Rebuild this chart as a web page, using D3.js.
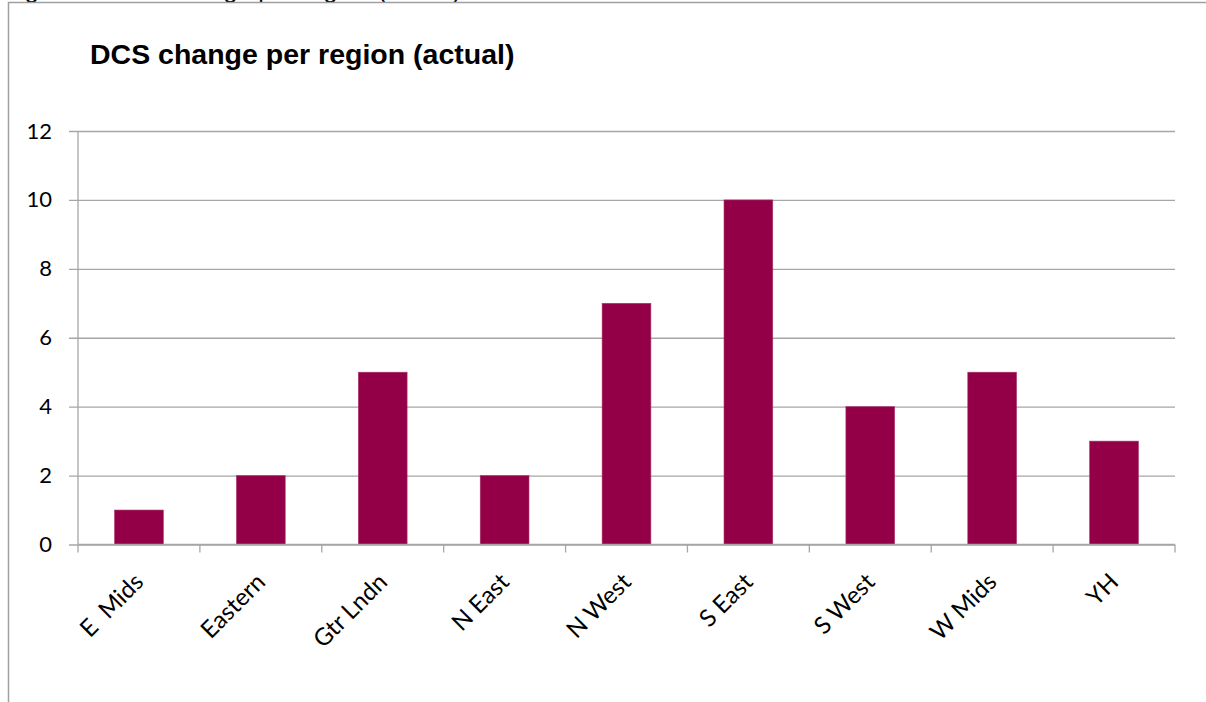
<!DOCTYPE html>
<meta charset="utf-8">
<script src="https://d3js.org/d3.v7.min.js"></script>
<style>
  body { margin: 0; background: #fff; }
  .tick text { font-family: Lato, 'Open Sans', sans-serif; font-size: 22px; fill: #000; }
</style>
<body>
<div id="my_dataviz"></div>
<script>

// data
var regions = ["E  Mids", "Eastern", "Gtr Lndn", "N East", "N West", "S East", "S West", "W Mids", "YH"];
var dcsChange = [1, 2, 5, 2, 7, 10, 4, 5, 3];
var yTicks = [0, 2, 4, 6, 8, 10, 12];

var W = 1206, H = 702;
var margin = {top: 131, right: 31, bottom: 157.5, left: 78},
    width = W - margin.left - margin.right,
    height = H - margin.top - margin.bottom;

var root = d3.select("#my_dataviz")
  .append("svg")
    .attr("width", W)
    .attr("height", H);

// frame (caption above is cut off in the original too, border lines)
root.append("text")
    .attr("x", 4)
    .attr("y", -2)
    .style("font-family", "Arial, 'Liberation Sans', sans-serif")
    .style("font-size", "25px")
    .text("Figure 4: DCS change per region (actual)");
root.append("path")
    .attr("d", "M8.5,702V2.5H1206")
    .attr("fill", "none")
    .attr("stroke", "#a0a0a0")
    .attr("stroke-width", 1.5);

// title
root.append("text")
    .attr("x", 90)
    .attr("y", 64)
    .style("font-family", "Arial, 'Liberation Sans', sans-serif")
    .style("font-weight", "bold")
    .style("font-size", "28.5px")
    .text("DCS change per region (actual)");

var svg = root.append("g")
    .attr("transform", "translate(" + margin.left + "," + margin.top + ")");

var x = d3.scaleBand()
  .domain(regions)
  .range([0, width])
  .paddingInner(0.6)
  .paddingOuter(0.3);

var y = d3.scaleLinear()
  .domain([0, 12])
  .range([height, 0]);

// gridlines + y axis
var yAxis = svg.append("g")
  .call(d3.axisLeft(y).tickValues(yTicks).tickSize(-width).tickSizeOuter(0).tickPadding(26));
yAxis.select(".domain").remove();
yAxis.selectAll(".tick line")
  .attr("x1", -9)
  .attr("stroke", "#a6a6a6")
  .attr("stroke-width", 1.3);

svg.append("line")
  .attr("x1", 0).attr("x2", 0)
  .attr("y1", 0).attr("y2", height)
  .attr("stroke", "#a6a6a6")
  .attr("stroke-width", 1.3);

// bars
svg.append("g")
  .selectAll("rect")
  .data(dcsChange)
  .enter()
  .append("rect")
    .attr("x", function(d, i) { return x(regions[i]); })
    .attr("y", function(d) { return y(d); })
    .attr("width", x.bandwidth())
    .attr("height", function(d) { return height - y(d); })
    .attr("fill", "#940047")
    .attr("stroke", "#a8336b")
    .attr("stroke-width", 0.6);

// x axis: ticks at category boundaries
var step = x.step();
var xAxis = svg.append("g")
  .attr("transform", "translate(0," + height + ")");
xAxis.append("line")
  .attr("x1", 0).attr("x2", width)
  .attr("stroke", "#a6a6a6")
  .attr("stroke-width", 1.3);
xAxis.selectAll(".bound")
  .data(d3.range(regions.length + 1))
  .enter()
  .append("line")
    .attr("x1", function(i) { return i * step; })
    .attr("x2", function(i) { return i * step; })
    .attr("y1", 0).attr("y2", 8)
    .attr("stroke", "#a6a6a6")
    .attr("stroke-width", 1.3);
xAxis.selectAll(".lbl")
  .data(regions)
  .enter()
  .append("text")
    .attr("transform", function(d) {
      return "translate(" + (x(d) + x.bandwidth() / 2 + 6) + ",39) rotate(-45)";
    })
    .attr("text-anchor", "end")
    .style("font-family", "Lato, 'Open Sans', sans-serif")
    .style("font-size", "24px")
    .style("white-space", "pre")
    .text(function(d) { return d; });

</script>
</body>
